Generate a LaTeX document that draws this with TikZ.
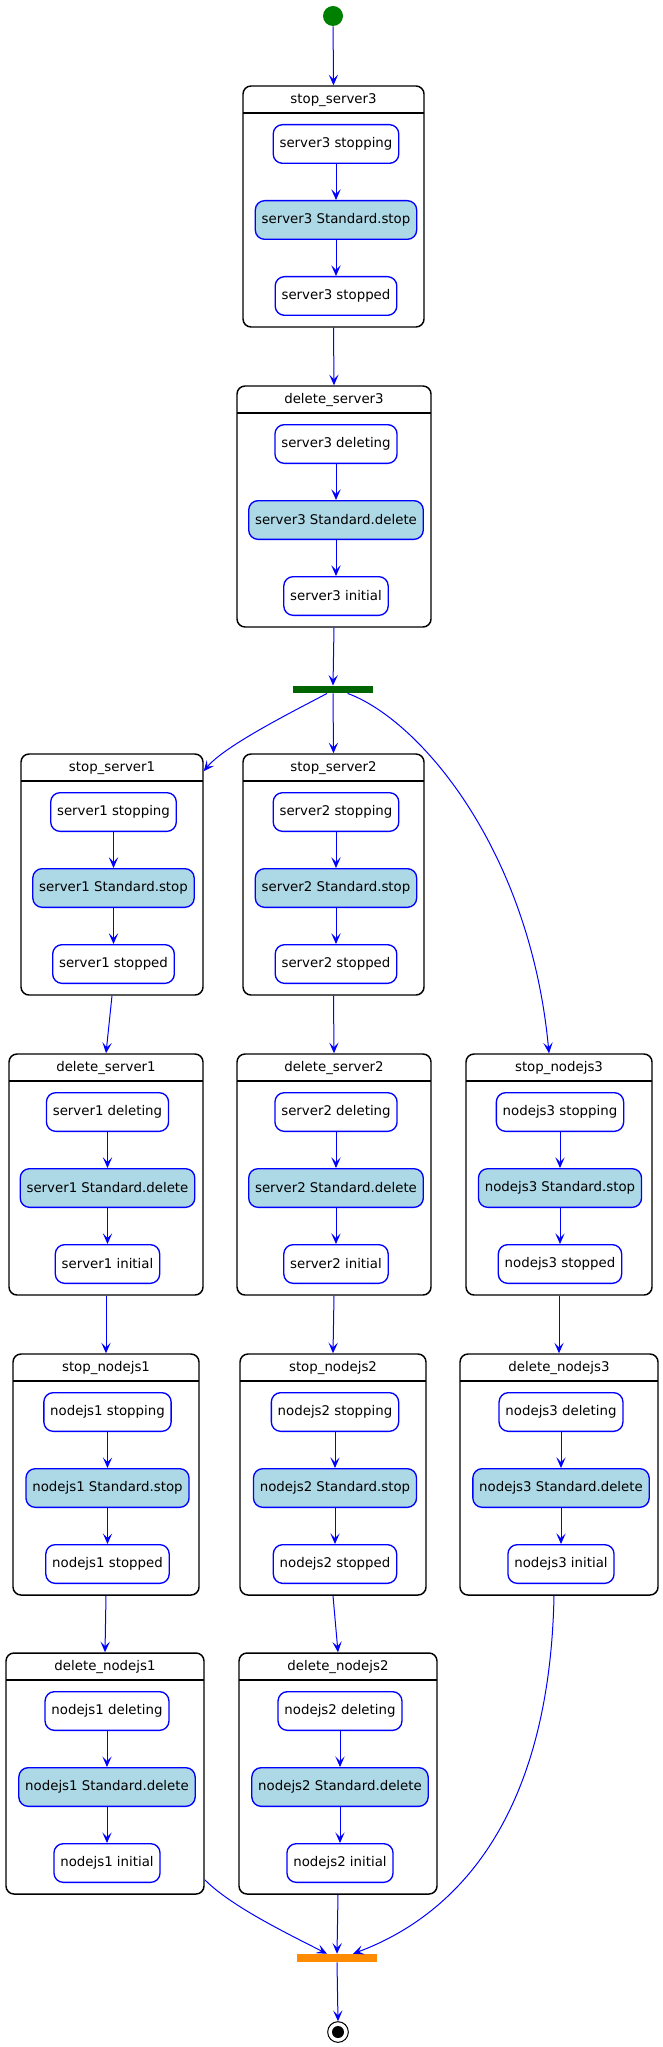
\documentclass[tikz,border=0pt]{standalone}
\usepackage{fontspec}
\setmainfont{DejaVu Sans}
\usetikzlibrary{arrows.meta,fit}
\definecolor{actblue}{HTML}{ADD8E6}
\definecolor{forkgreen}{HTML}{006400}
\definecolor{startgreen}{HTML}{008000}
\definecolor{joinorange}{HTML}{FF8C00}

\begin{document}
\begin{tikzpicture}[x=0.75pt,y=0.75pt,yscale=-1,
  font=\fontsize{10pt}{12pt}\selectfont,
  group/.style={draw=black,fill=white,line width=1.1pt,rounded corners=6pt,inner sep=0pt},
  sepline/.style={draw=black,line width=1.1pt},
  grptitle/.style={inner sep=0pt,text=black},
  st/.style={draw=blue,fill=white,line width=1pt,rounded corners=7pt,minimum height=29pt,inner xsep=4.8pt,inner ysep=0pt},
  act/.style={st,fill=actblue},
  tr/.style={draw=blue,line width=0.75pt,-{Stealth[length=8pt,width=7pt,inset=3.5pt]}},
  bar/.style={minimum width=60pt,minimum height=5.5pt,inner sep=0pt}]
\useasboundingbox (0,0) rectangle (663,2047);

% Start
\node[circle,fill=startgreen,minimum size=15pt,inner sep=0pt] (start) at (333,16) {};

% stop_server3
\node[group,fit={(243,86) (424,327)}] (ss3) {};
\draw[sepline] (243,113) -- (424,113);
\node[grptitle] (ss3t) at (333.5,100) {stop\_server3};
\node[st] (ss3a) at (336,144) {server3 stopping};
\node[act] (ss3b) at (336,220) {server3 Standard.stop};
\node[st] (ss3c) at (336,296) {server3 stopped};

% delete_server3
\node[group,fit={(237,386) (431,627)}] (ds3) {};
\draw[sepline] (237,413) -- (431,413);
\node[grptitle] (ds3t) at (334,400) {delete\_server3};
\node[st] (ds3a) at (336,444) {server3 deleting};
\node[act] (ds3b) at (336,520) {server3 Standard.delete};
\node[st] (ds3c) at (336,596) {server3 initial};

% Fork
\node[bar,fill=forkgreen] (fork) at (333,689.5) {};

% stop_server1
\node[group,fit={(21,754) (203,995)}] (ss1) {};
\draw[sepline] (21,781) -- (203,781);
\node[grptitle] (ss1t) at (112,768) {stop\_server1};
\node[st] (ss1a) at (113.5,812) {server1 stopping};
\node[act] (ss1b) at (113.5,888) {server1 Standard.stop};
\node[st] (ss1c) at (113.5,964) {server1 stopped};

% stop_server2
\node[group,fit={(243,754) (424,995)}] (ss2) {};
\draw[sepline] (243,781) -- (424,781);
\node[grptitle] (ss2t) at (333.5,768) {stop\_server2};
\node[st] (ss2a) at (336,812) {server2 stopping};
\node[act] (ss2b) at (336,888) {server2 Standard.stop};
\node[st] (ss2c) at (336,964) {server2 stopped};

% delete_server1
\node[group,fit={(9,1054) (203,1295)}] (ds1) {};
\draw[sepline] (9,1081) -- (203,1081);
\node[grptitle] (ds1t) at (106,1068) {delete\_server1};
\node[st] (ds1a) at (107.5,1112) {server1 deleting};
\node[act] (ds1b) at (107.5,1188) {server1 Standard.delete};
\node[st] (ds1c) at (107.5,1264) {server1 initial};

% delete_server2
\node[group,fit={(237,1054) (431,1295)}] (ds2) {};
\draw[sepline] (237,1081) -- (431,1081);
\node[grptitle] (ds2t) at (334,1068) {delete\_server2};
\node[st] (ds2a) at (336,1112) {server2 deleting};
\node[act] (ds2b) at (336,1188) {server2 Standard.delete};
\node[st] (ds2c) at (336,1264) {server2 initial};

% stop_nodejs3
\node[group,fit={(466,1054) (652,1295)}] (sn3) {};
\draw[sepline] (466,1081) -- (652,1081);
\node[grptitle] (sn3t) at (559,1068) {stop\_nodejs3};
\node[st] (sn3a) at (560,1112) {nodejs3 stopping};
\node[act] (sn3b) at (560,1188) {nodejs3 Standard.stop};
\node[st] (sn3c) at (560,1264) {nodejs3 stopped};

% stop_nodejs1
\node[group,fit={(13,1354) (199,1595)}] (sn1) {};
\draw[sepline] (13,1381) -- (199,1381);
\node[grptitle] (sn1t) at (106,1368) {stop\_nodejs1};
\node[st] (sn1a) at (107.5,1412) {nodejs1 stopping};
\node[act] (sn1b) at (107.5,1488) {nodejs1 Standard.stop};
\node[st] (sn1c) at (107.5,1564) {nodejs1 stopped};

% stop_nodejs2
\node[group,fit={(240,1354) (426,1595)}] (sn2) {};
\draw[sepline] (240,1381) -- (426,1381);
\node[grptitle] (sn2t) at (333,1368) {stop\_nodejs2};
\node[st] (sn2a) at (335,1412) {nodejs2 stopping};
\node[act] (sn2b) at (335,1488) {nodejs2 Standard.stop};
\node[st] (sn2c) at (335,1564) {nodejs2 stopped};

% delete_nodejs3
\node[group,fit={(460,1354) (658,1595)}] (dn3) {};
\draw[sepline] (460,1381) -- (658,1381);
\node[grptitle] (dn3t) at (559,1368) {delete\_nodejs3};
\node[st] (dn3a) at (561,1412) {nodejs3 deleting};
\node[act] (dn3b) at (561,1488) {nodejs3 Standard.delete};
\node[st] (dn3c) at (561,1564) {nodejs3 initial};

% delete_nodejs1
\node[group,fit={(6,1653) (204,1894)}] (dn1) {};
\draw[sepline] (6,1680) -- (204,1680);
\node[grptitle] (dn1t) at (105,1667) {delete\_nodejs1};
\node[st] (dn1a) at (107,1711) {nodejs1 deleting};
\node[act] (dn1b) at (107,1787) {nodejs1 Standard.delete};
\node[st] (dn1c) at (107,1863) {nodejs1 initial};

% delete_nodejs2
\node[group,fit={(239,1653) (437,1894)}] (dn2) {};
\draw[sepline] (239,1680) -- (437,1680);
\node[grptitle] (dn2t) at (338,1667) {delete\_nodejs2};
\node[st] (dn2a) at (340,1711) {nodejs2 deleting};
\node[act] (dn2b) at (340,1787) {nodejs2 Standard.delete};
\node[st] (dn2c) at (340,1863) {nodejs2 initial};

% Join and end
\node[bar,fill=joinorange,minimum height=6pt] (join) at (337,1958) {};
\node[circle,draw=black,fill=white,line width=0.75pt,minimum size=15.5pt,inner sep=0pt] (end) at (338,2032) {};
\node[circle,fill=black,minimum size=9pt,inner sep=0pt] (enddot) at (end) {};

% Transitions inside the groups
\draw[tr] (ss3a) -- (ss3b);
\draw[tr] (ss3b) -- (ss3c);
\draw[tr] (ds3a) -- (ds3b);
\draw[tr] (ds3b) -- (ds3c);
\draw[tr] (ss1a) -- (ss1b);
\draw[tr] (ss1b) -- (ss1c);
\draw[tr] (ss2a) -- (ss2b);
\draw[tr] (ss2b) -- (ss2c);
\draw[tr] (ds1a) -- (ds1b);
\draw[tr] (ds1b) -- (ds1c);
\draw[tr] (ds2a) -- (ds2b);
\draw[tr] (ds2b) -- (ds2c);
\draw[tr] (sn3a) -- (sn3b);
\draw[tr] (sn3b) -- (sn3c);
\draw[tr] (sn1a) -- (sn1b);
\draw[tr] (sn1b) -- (sn1c);
\draw[tr] (sn2a) -- (sn2b);
\draw[tr] (sn2b) -- (sn2c);
\draw[tr] (dn3a) -- (dn3b);
\draw[tr] (dn3b) -- (dn3c);
\draw[tr] (dn1a) -- (dn1b);
\draw[tr] (dn1b) -- (dn1c);
\draw[tr] (dn2a) -- (dn2b);
\draw[tr] (dn2b) -- (dn2c);

% Transitions between the groups
\draw[tr] (start) -- (ss3.north);
\draw[tr] (ss3.south) -- (ds3.north);
\draw[tr] (ds3.south) -- (fork.north);
\draw[tr] ([xshift=-4.5pt]fork.south) .. controls (300,708) and (225,745) .. ([yshift=13.5pt]ss1.north east);
\draw[tr] (fork.south) -- (ss2.north);
\draw[tr] ([xshift=11pt]fork.south) .. controls (420,720) and (530,850) .. ([xshift=-7.5pt]sn3.north);
\draw[tr] (ss1.south) -- (ds1.north);
\draw[tr] (ss2.south) -- (ds2.north);
\draw[tr] (ds1.south) -- (sn1.north);
\draw[tr] (ds2.south) -- (sn2.north);
\draw[tr] (sn3.south) -- (dn3.north);
\draw[tr] (sn1.south) -- (dn1.north);
\draw[tr] (sn2.south) -- (dn2.north);
\draw[tr] ([yshift=-11.25pt]dn1.south east) .. controls (230,1905) and (280,1930) .. ([xshift=-7.5pt]join.north);
\draw[tr] (dn2.south) -- (join.north);
\draw[tr] ([xshift=-3.75pt]dn3.south) .. controls (550,1800) and (470,1910) .. ([xshift=12pt]join.north);
\draw[tr] (join.south) -- (end.north);

\end{tikzpicture}
\end{document}
